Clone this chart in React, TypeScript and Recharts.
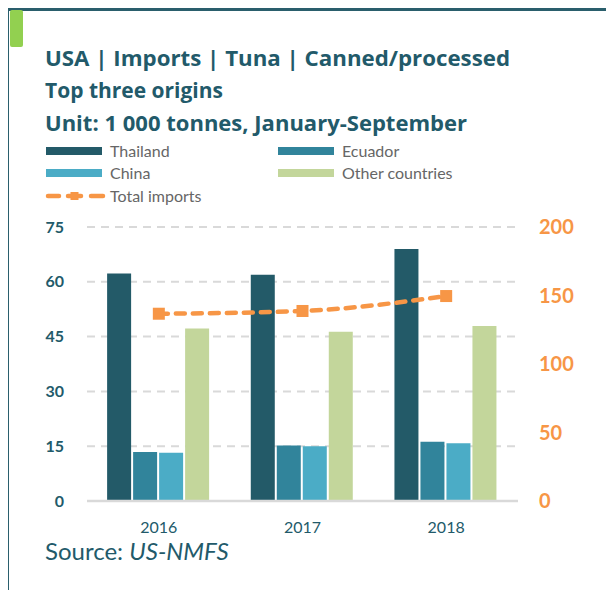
import React from 'react';
import { ComposedChart, Bar, Line, XAxis, YAxis, CartesianGrid } from 'recharts';

const years = ['2016', '2017', '2018'];
const thailand = [62.3, 61.9, 69.0];
const ecuador = [13.4, 15.2, 16.2];
const china = [13.2, 15.0, 15.8];
const others = [47.2, 46.3, 47.9];
const totalImports = [136.7, 138.7, 149.6];

const leftTicks = [0, 15, 30, 45, 60, 75];
const rightTicks = [0, 50, 100, 150, 200];

const titleLines = [
  { text: 'USA | Imports | Tuna | Canned/processed', y: 66, len: 465 },
  { text: 'Top three origins', y: 98, len: 178 },
  { text: 'Unit: 1 000 tonnes, January-September', y: 131, len: 422 },
];

const TEAL = '#225a6a';
const ORANGE = '#f79646';
const FONT = 'Lato, "Open Sans", sans-serif';

const data = years.map((year, i) => ({
  year,
  thailand: thailand[i],
  ecuador: ecuador[i],
  china: china[i],
  others: others[i],
  total: totalImports[i],
}));

const SquareDot = (props: any) => {
  const { cx, cy } = props;
  if (cx == null || cy == null) return null;
  return <rect x={cx - 6} y={cy - 6} width={12} height={12} fill={ORANGE} />;
};

const legendBars = [
  { label: 'Thailand', color: '#235a68', x: 46, y: 151 },
  { label: 'Ecuador', color: '#31849b', x: 278, y: 151 },
  { label: 'China', color: '#4bacc6', x: 46, y: 173 },
  { label: 'Other countries', color: '#c3d69b', x: 278, y: 173 },
];

export default function App() {
  return (
    <div style={{ position: 'relative', width: 614, height: 598, margin: -8, background: '#fff', overflow: 'hidden' }}>
      {/* frame */}
      <div style={{ position: 'absolute', left: 4, top: 7, width: 610, height: 4, background: '#2a5e6c' }} />
      <div style={{ position: 'absolute', left: 4, top: 7, width: 5, height: 591, background: '#2a5e6c' }} />
      <div style={{ position: 'absolute', left: 10, top: 10, width: 13, height: 37, background: '#92d050', borderRadius: 2 }} />

      <div style={{ position: 'absolute', left: 0, top: 0 }}>
        <ComposedChart
          width={614}
          height={560}
          data={data}
          margin={{ top: 227, right: 0, left: 0, bottom: 29 }}
          barCategoryGap="14%"
          barGap={2}
        >
          <CartesianGrid vertical={false} stroke="#d9d9d9" strokeWidth={2} strokeDasharray="8 6" yAxisId="left" />
          <XAxis
            dataKey="year"
            height={30}
            axisLine={{ stroke: '#d9d9d9', strokeWidth: 2.5 }}
            tickLine={false}
            tickSize={0}
            tickMargin={21}
            tick={{ fill: TEAL, fontSize: 16, fontFamily: FONT }}
          />
          <YAxis
            yAxisId="left"
            width={87}
            domain={[0, 75]}
            ticks={leftTicks}
            axisLine={false}
            tickLine={false}
            tickSize={0}
            tickMargin={23}
            tick={{ fill: TEAL, fontSize: 16, fontWeight: 700, fontFamily: FONT }}
          />
          <YAxis
            yAxisId="right"
            orientation="right"
            width={96}
            domain={[0, 200]}
            ticks={rightTicks}
            axisLine={false}
            tickLine={false}
            tickSize={0}
            tickMargin={21}
            tick={{ fill: ORANGE, fontSize: 20, fontWeight: 700, fontFamily: FONT, textAnchor: 'start' }}
          />
          <Bar yAxisId="left" dataKey="thailand" fill="#235a68" isAnimationActive={false} />
          <Bar yAxisId="left" dataKey="ecuador" fill="#31849b" isAnimationActive={false} />
          <Bar yAxisId="left" dataKey="china" fill="#4bacc6" isAnimationActive={false} />
          <Bar yAxisId="left" dataKey="others" fill="#c3d69b" isAnimationActive={false} />
          <Line
            yAxisId="right"
            dataKey="total"
            type="monotone"
            stroke={ORANGE}
            strokeWidth={4.5}
            strokeDasharray="9 8"
            strokeLinecap="round"
            dot={<SquareDot />}
            activeDot={false}
            isAnimationActive={false}
          />
        </ComposedChart>
      </div>

      <svg width={614} height={598} style={{ position: 'absolute', left: 0, top: 0, pointerEvents: 'none' }}>
        <g fontFamily='"Open Sans", Lato, sans-serif' fontWeight={700} fontSize={21} fill={TEAL}>
          {titleLines.map((t) => (
            <text key={t.text} x={45} y={t.y} textLength={t.len} lengthAdjust="spacingAndGlyphs">
              {t.text}
            </text>
          ))}
        </g>
        {legendBars.map((b) => (
          <g key={b.label}>
            <rect x={b.x} y={b.y - 4} width={56} height={8} fill={b.color} />
            <text x={b.x + 64} y={b.y} dy="0.36em" fontFamily={FONT} fontSize={16} fill="#666">
              {b.label}
            </text>
          </g>
        ))}
        <g>
          <line x1={48} y1={196} x2={59} y2={196} stroke={ORANGE} strokeWidth={4.5} strokeLinecap="round" />
          <line x1={68} y1={196} x2={81} y2={196} stroke={ORANGE} strokeWidth={4.5} strokeLinecap="round" />
          <line x1={91} y1={196} x2={103} y2={196} stroke={ORANGE} strokeWidth={4.5} strokeLinecap="round" />
          <rect x={70.5} y={192} width={8} height={8} fill={ORANGE} />
          <text x={110} y={196} dy="0.36em" fontFamily={FONT} fontSize={16} fill="#666">Total imports</text>
        </g>
        <text x={45} y={560} fontFamily={FONT} fontSize={24} fill={TEAL}>
          Source: <tspan fontStyle="italic">US-NMFS</tspan>
        </text>
      </svg>
    </div>
  );
}
